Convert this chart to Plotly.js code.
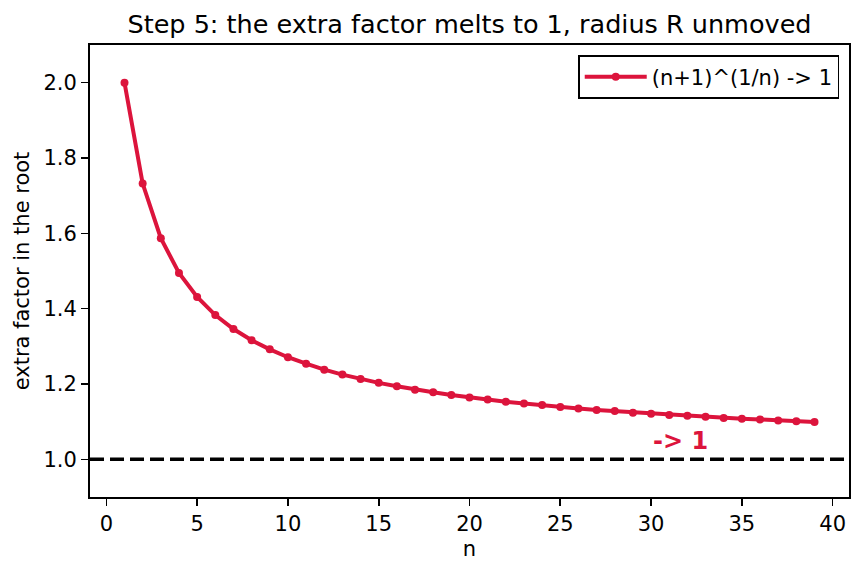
<!DOCTYPE html>
<html>
<head>
<meta charset="utf-8">
<script src="https://cdn.plot.ly/plotly-3.0.1.min.js"></script>
<style>html,body{margin:0;padding:0;background:#fff;}#chart{width:863px;height:573px;}</style>
</head>
<body>
<div id="chart"></div>
<script>
const nValues = [1,2,3,4,5,6,7,8,9,10,11,12,13,14,15,16,17,18,19,20,21,22,23,24,25,26,27,28,29,30,31,32,33,34,35,36,37,38,39];
const factorValues = [2.000,1.732,1.587,1.495,1.431,1.383,1.346,1.316,1.292,1.271,1.254,1.238,1.225,1.213,1.203,1.194,1.185,1.178,1.171,1.164,1.159,1.153,1.148,1.144,1.139,1.135,1.131,1.128,1.124,1.121,1.118,1.116,1.113,1.110,1.108,1.106,1.103,1.101,1.099];
const seriesName = "(n+1)^(1/n) -> 1";
const limitValue = 1.0;
const xTicks = [0,5,10,15,20,25,30,35,40];
const yTicks = [1.0,1.2,1.4,1.6,1.8,2.0];
const yTickText = ["1.0","1.2","1.4","1.6","1.8","2.0"];

const font = "DejaVu Sans, sans-serif";
const crimson = "#DC143C";

const traces = [{
  x: nValues, y: factorValues, type: "scatter", mode: "lines+markers",
  name: seriesName,
  line: {color: crimson, width: 4},
  marker: {color: crimson, size: 8}
}];

const layout = {
  width: 863, height: 573,
  margin: {l: 90, r: 14, t: 45, b: 76},
  paper_bgcolor: "#fff", plot_bgcolor: "#fff",
  font: {family: font, size: 20, color: "#000"},
  title: {text: "Step 5: the extra factor melts to 1, radius R unmoved", font: {family: font, size: 25.5, color: "#000"},
    xref: "paper", x: 0.5, xanchor: "center", yref: "container", y: 0.958, yanchor: "middle"},
  xaxis: {
    range: [-0.9, 40.9], tickvals: xTicks, ticks: "outside", ticklen: 7, tickwidth: 1.6, tickcolor: "#000",
    showgrid: false, zeroline: false, showline: true, linecolor: "#000", linewidth: 2, mirror: true,
    tickfont: {family: font, size: 21}, title: {text: "n", font: {family: font, size: 21}, standoff: 6}
  },
  yaxis: {
    range: [0.9, 2.1], tickvals: yTicks, ticktext: yTickText, ticks: "outside", ticklen: 7, tickwidth: 1.6, tickcolor: "#000",
    showgrid: false, zeroline: false, showline: true, linecolor: "#000", linewidth: 2, mirror: true,
    tickfont: {family: font, size: 21}, title: {text: "extra factor in the root", font: {family: font, size: 21}, standoff: 8}
  },
  shapes: [{type: "line", xref: "paper", x0: 0, x1: 1, yref: "y", y0: limitValue, y1: limitValue,
    line: {color: "#000", width: 3.5, dash: "14px,6px"}}],
  annotations: [{x: 30, y: 1.05, xref: "x", yref: "y", text: "<b>-> 1</b>", showarrow: false,
    xanchor: "left", yanchor: "middle", font: {family: font, size: 24, color: crimson}}],
  showlegend: true,
  legend: {x: 0.987, y: 0.978, xanchor: "right", yanchor: "top", bgcolor: "#fff",
    bordercolor: "#000", borderwidth: 1.6, itemwidth: 62, font: {family: font, size: 21}}
};

Plotly.newPlot("chart", traces, layout, {displayModeBar: false, staticPlot: true});
</script>
</body>
</html>
